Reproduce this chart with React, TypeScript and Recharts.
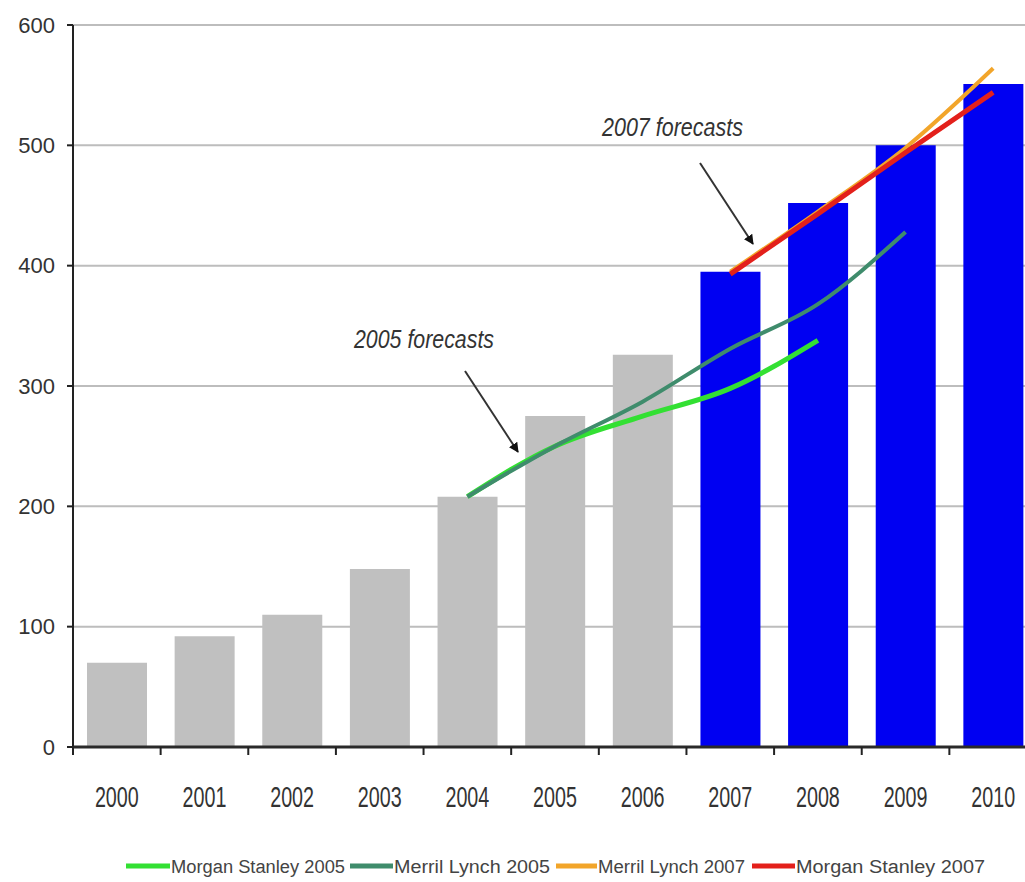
import {
  ComposedChart,
  Bar,
  Cell,
  Line,
  XAxis,
  YAxis,
  CartesianGrid,
} from "recharts";

const years = ["2000", "2001", "2002", "2003", "2004", "2005", "2006", "2007", "2008", "2009", "2010"];
const marketSize = [70, 92, 110, 148, 208, 275, 326, 395, 452, 500, 551];
const firstForecastYear = "2007";

const morganStanley2005 = [null, null, null, null, 208, 250, 275, 298, 338, null, null];
const merrillLynch2005 = [null, null, null, null, 208, 250, 287, 331, 368, 428, null];
const merrillLynch2007 = [null, null, null, null, null, null, null, 395, 445, 498, 564];
const morganStanley2007 = [null, null, null, null, null, null, null, 393, 443, 494, 544];

const yTicks = [0, 100, 200, 300, 400, 500, 600];

const series = [
  { key: "ms2005", name: "Morgan Stanley 2005", values: morganStanley2005, color: "#33e033", width: 5 },
  { key: "ml2005", name: "Merril Lynch 2005", values: merrillLynch2005, color: "#3f8c6c", width: 4 },
  { key: "ml2007", name: "Merril Lynch 2007", values: merrillLynch2007, color: "#f2a52a", width: 4 },
  { key: "ms2007", name: "Morgan Stanley 2007", values: morganStanley2007, color: "#e3201b", width: 5 },
];

const data = years.map((year, i) => {
  const row: Record<string, string | number | null> = { year, size: marketSize[i] };
  series.forEach((s) => {
    row[s.key] = s.values[i];
  });
  return row;
});

// chart is wider than the window, the right edge gets clipped like the source
const CHART_W = 1037;
const CHART_H = 882;
const Y_AXIS_W = 73;
const BAND = (CHART_W - Y_AXIS_W) / years.length;

function YearTick(props: any) {
  const { x, y, payload } = props;
  return (
    <g>
      <line x1={x - BAND / 2} y1={y} x2={x - BAND / 2} y2={y + 8} stroke="#222" strokeWidth={2} />
      {/* squeezed labels, like the narrow font of the source */}
      <text
        transform={`translate(${x},${y + 60}) scale(0.68,1)`}
        textAnchor="middle"
        fontSize={29}
        fill="#333"
      >
        {payload.value}
      </text>
    </g>
  );
}

// legend item placement, in page pixels
const legendSlots = [
  { swatch: 126, text: 171, textW: 174 },
  { swatch: 350, text: 394, textW: 156 },
  { swatch: 556, text: 598, textW: 147 },
  { swatch: 752, text: 796, textW: 189 },
];

function Overlay() {
  return (
    <svg
      width={1025}
      height={882}
      style={{ position: "absolute", left: 0, top: 0, pointerEvents: "none" }}
    >
      <defs>
        <marker id="head" viewBox="0 0 10 10" refX="9" refY="5" markerWidth="5" markerHeight="5" orient="auto">
          <path d="M0,0 L10,5 L0,10 z" fill="#111" />
        </marker>
      </defs>
      <text
        x={354}
        y={348}
        fontSize={25}
        fontStyle="italic"
        fill="#333"
        textLength={140}
        lengthAdjust="spacingAndGlyphs"
      >
        2005 forecasts
      </text>
      <line x1={465} y1={371} x2={518} y2={452} stroke="#333" strokeWidth={2} markerEnd="url(#head)" />
      <text
        x={602}
        y={136}
        fontSize={25}
        fontStyle="italic"
        fill="#333"
        textLength={141}
        lengthAdjust="spacingAndGlyphs"
      >
        2007 forecasts
      </text>
      <line x1={700} y1={163} x2={753} y2={244} stroke="#333" strokeWidth={2} markerEnd="url(#head)" />

      {series.map((s, i) => (
        <g key={s.key}>
          <line
            x1={legendSlots[i].swatch}
            y1={866}
            x2={legendSlots[i].text - 1}
            y2={866}
            stroke={s.color}
            strokeWidth={5}
          />
          <text
            x={legendSlots[i].text}
            y={873}
            fontSize={18}
            fill="#444"
            textLength={legendSlots[i].textW}
            lengthAdjust="spacingAndGlyphs"
          >
            {s.name}
          </text>
        </g>
      ))}
    </svg>
  );
}

export default function App() {
  return (
    <div
      style={{
        position: "absolute",
        left: 0,
        top: 0,
        width: 1025,
        height: 882,
        overflow: "hidden",
        background: "#fff",
        fontFamily: "'Liberation Sans', Arial, sans-serif",
      }}
    >
      <ComposedChart
        width={CHART_W}
        height={CHART_H}
        data={data}
        margin={{ top: 25, right: 0, bottom: 0, left: 0 }}
      >
        <CartesianGrid vertical={false} stroke="#bdbdbd" strokeWidth={2} />
        <XAxis
          dataKey="year"
          height={135}
          axisLine={{ stroke: "#2a2a2a", strokeWidth: 3 }}
          tickLine={false}
          tickSize={0}
          tickMargin={0}
          interval={0}
          tick={<YearTick />}
        />
        <YAxis
          width={Y_AXIS_W}
          domain={[0, 600]}
          ticks={yTicks}
          interval={0}
          axisLine={{ stroke: "#222", strokeWidth: 2 }}
          tickLine={{ stroke: "#222", strokeWidth: 2 }}
          tickSize={6}
          tickMargin={12}
          tick={{ fontSize: 22, fill: "#333" }}
        />
        <Bar dataKey="size" barSize={60} isAnimationActive={false}>
          {data.map((d) => (
            <Cell key={String(d.year)} fill={Number(d.year) >= Number(firstForecastYear) ? "#0000f2" : "#c0c0c0"} />
          ))}
        </Bar>
        {series.map((s) => (
          <Line
            key={s.key}
            dataKey={s.key}
            name={s.name}
            type="monotone"
            stroke={s.color}
            strokeWidth={s.width}
            dot={false}
            activeDot={false}
            isAnimationActive={false}
          />
        ))}
      </ComposedChart>
      <Overlay />
    </div>
  );
}
